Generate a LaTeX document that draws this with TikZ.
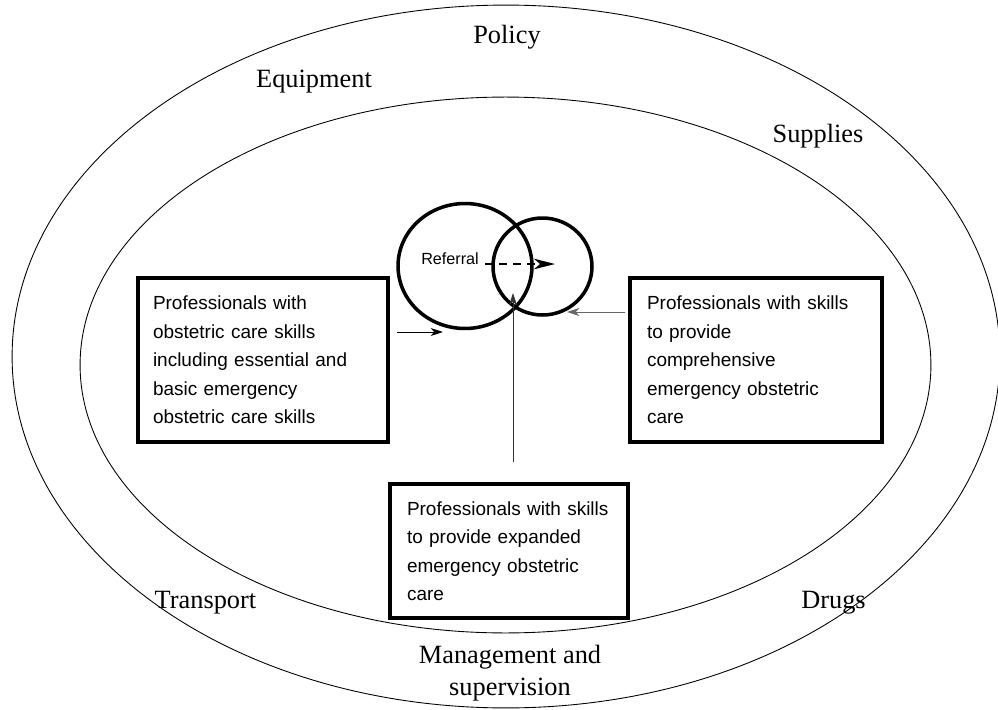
\documentclass[tikz,border=0pt]{standalone}
\usepackage{fontspec}
\setmainfont{Liberation Serif}
\newfontfamily\boxfont{Liberation Sans}
\usetikzlibrary{shapes.geometric,arrows.meta}

\tikzset{
  ringtext/.style={font=\fontsize{15}{18.2}\selectfont},
  skillbox/.style={draw, line width=2pt, align=left, inner ysep=0pt,
    font=\boxfont\fontsize{10.8}{16.2}\selectfont},
  ring/.style={draw, ellipse, line width=2pt, inner sep=0pt},
  link/.style={-{Stealth[length=7pt,width=4.5pt,inset=2pt]}, line width=0.5pt}
}

\begin{document}
\begin{tikzpicture}[x=0.02cm,y=-0.02cm]
            \useasboundingbox (0,0) rectangle (998,710);

            % Disegna le due ellissi
            \draw[line width=0.5pt] (506,356.5) ellipse [x radius=9.88cm, y radius=7.03cm];
            \draw[line width=0.5pt] (505.5,365) ellipse [x radius=8.51cm, y radius=5.36cm];

            % Risorse intorno
            \node[ringtext, anchor=base] (policy) at (507,43) {Policy};
            \node[ringtext, anchor=base] (equip) at (314,87) {Equipment};
            \node[ringtext, anchor=base] (supplies) at (818,142) {Supplies};
            \node[ringtext, anchor=base] (transport) at (205.5,608) {Transport};
            \node[ringtext, anchor=base] (drugs) at (833.5,608) {Drugs};
            \node[ringtext, align=center] (manage) at (510,673) {Management and\\supervision};

            % Professionisti
            \node[skillbox, text width=4.4cm, inner xsep=0.3cm, minimum height=3.28cm] (basic) at (263,360)
                {Professionals with\\obstetric care skills\\including essential and\\basic emergency\\obstetric care skills};
            \node[skillbox, text width=4.36cm, inner xsep=0.34cm, minimum height=3.28cm] (compr) at (756,360)
                {Professionals with skills\\to provide\\comprehensive\\emergency obstetric\\care};
            \node[skillbox, text width=4.08cm, inner xsep=0.34cm, minimum height=2.68cm] (expand) at (509,551)
                {Professionals with skills\\to provide expanded\\emergency obstetric\\care};

            % Cerchi del riferimento
            \node[ring, minimum width=2.68cm, minimum height=2.5cm] (big) at (465,266) {};
            \node[ring, minimum width=1.98cm, minimum height=1.94cm] (small) at (542.5,266.5) {};
            \node[font=\boxfont\fontsize{9.2}{11}\selectfont, anchor=base] (ref) at (450,264) {Referral};

            \coordinate (refend) at (555,264);
            \coordinate (b1) at (397,332);
            \coordinate (b2) at (443,332);
            \coordinate (c1) at (625,312);
            \coordinate (c2) at (567,312);
            \coordinate (e1) at (513,462);
            \coordinate (e2) at (513,293);

            \draw[line width=0.7pt, dash pattern=on 4.5pt off 3.5pt,
                  -{Stealth[length=12pt,width=6pt,inset=3.5pt]}] (ref.base east) -- (refend);
            \draw[link] (b1) -- (b2);
            \draw[link, black!60] (c1) -- (c2);
            \draw[link, black!80] (e1) -- (e2);

        \end{tikzpicture}
\end{document}
